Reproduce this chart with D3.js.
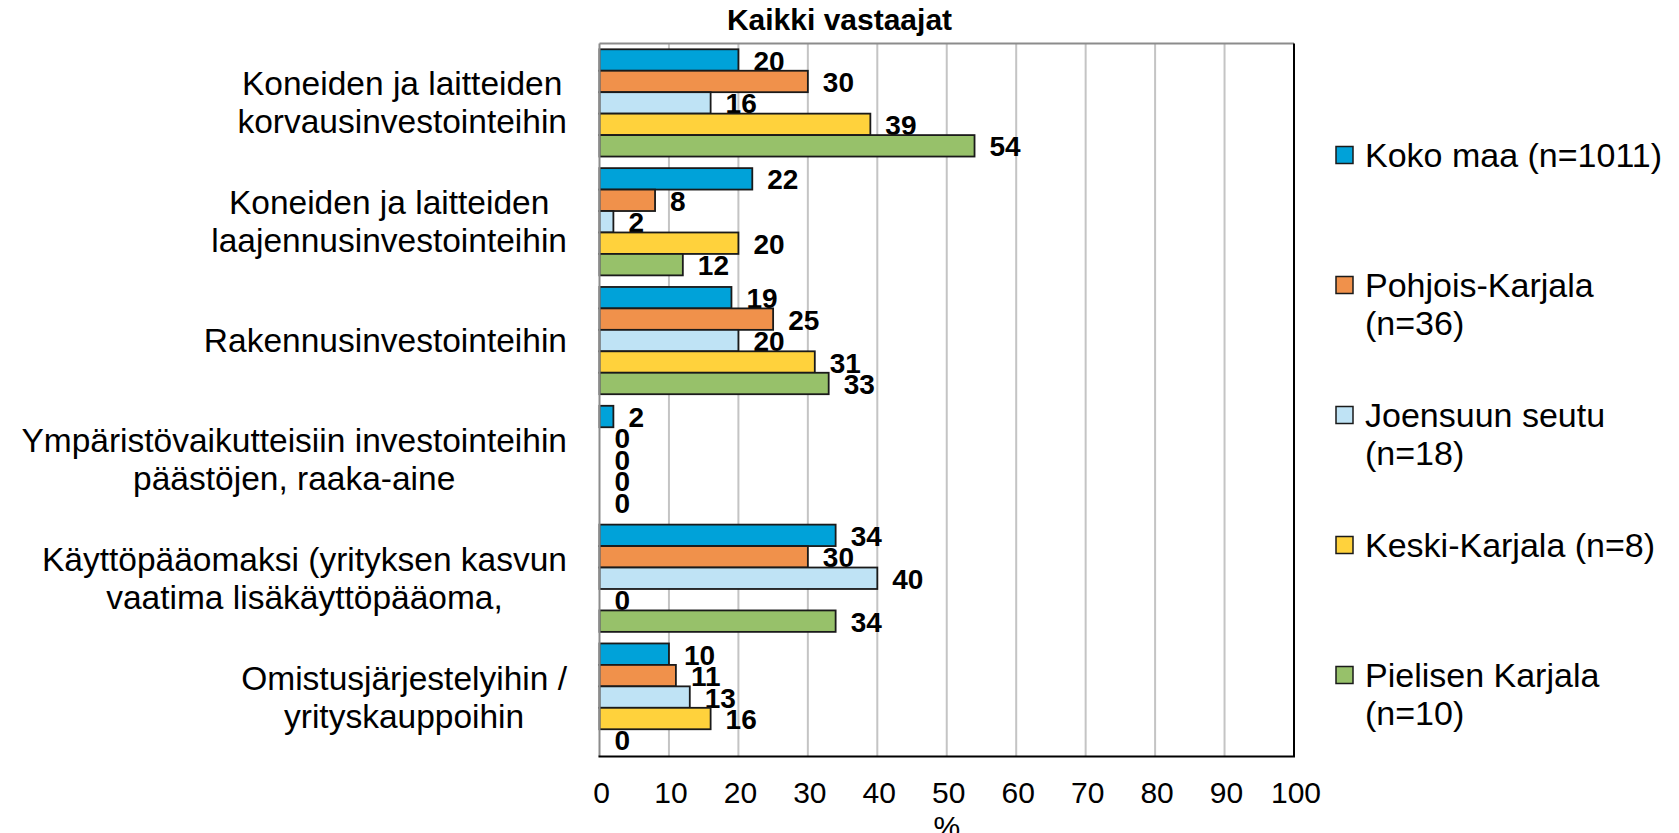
<!DOCTYPE html>
<html>
<head>
<meta charset="utf-8">
<script src="https://cdn.jsdelivr.net/npm/d3@7"></script>
<style>
  body { margin: 0; background: #fff; }
  text { font-family: "Liberation Sans", Arial, sans-serif; fill: #000; }
</style>
</head>
<body>
<div class="chart"></div>
<script>
// categories (each item is a list of lines)
var categories = [
  ["Koneiden ja laitteiden", "korvausinvestointeihin"],
  ["Koneiden ja laitteiden", "laajennusinvestointeihin"],
  ["Rakennusinvestointeihin"],
  ["Ympäristövaikutteisiin investointeihin", "päästöjen, raaka-aine"],
  ["Käyttöpääomaksi (yrityksen kasvun", "vaatima lisäkäyttöpääoma,"],
  ["Omistusjärjestelyihin /", "yrityskauppoihin"]
];

var seriesNames = ["Koko maa (n=1011)", "Pohjois-Karjala (n=36)", "Joensuun seutu (n=18)", "Keski-Karjala (n=8)", "Pielisen Karjala (n=10)"];
var legendLines = [["Koko maa (n=1011)"], ["Pohjois-Karjala", "(n=36)"], ["Joensuun seutu", "(n=18)"], ["Keski-Karjala (n=8)"], ["Pielisen Karjala", "(n=10)"]];
var colors = ["#00a2d9", "#f0914b", "#bfe3f5", "#ffd23c", "#97c16a"];

// values per series, in category order
var kokoMaa        = [20, 22, 19, 2, 34, 10];
var pohjoisKarjala = [30, 8, 25, 0, 30, 11];
var joensuunSeutu  = [16, 2, 20, 0, 40, 13];
var keskiKarjala   = [39, 20, 31, 0, 0, 16];
var pielisenKarjala= [54, 12, 33, 0, 34, 0];
var seriesValues = [kokoMaa, pohjoisKarjala, joensuunSeutu, keskiKarjala, pielisenKarjala];

var xTicks = [0, 10, 20, 30, 40, 50, 60, 70, 80, 90, 100];

var W = 1679, H = 833;
var plot = {left: 599.5, right: 1294, top: 43.5, bottom: 756.5};

var svg = d3.select("div.chart").append("svg")
    .attr("width", W).attr("height", H)
    .attr("viewBox", `0 0 ${W} ${H}`);

var x = d3.scaleLinear().domain([0, 100]).range([plot.left, plot.right]);
var y = d3.scaleBand().domain(d3.range(categories.length)).range([plot.top, plot.bottom]).padding(0);
var ySeries = d3.scaleBand().domain(d3.range(seriesNames.length)).range([0, y.bandwidth()])
    .paddingInner(0).paddingOuter(0.27);

// gridlines
svg.append("g").selectAll("line")
    .data(xTicks.slice(1, -1))
    .enter().append("line")
    .attr("x1", d => x(d)).attr("x2", d => x(d))
    .attr("y1", plot.top).attr("y2", plot.bottom)
    .attr("stroke", "#c4c4c4").attr("stroke-width", 2);

// plot border
svg.append("line").attr("x1", plot.left).attr("x2", plot.right).attr("y1", plot.top).attr("y2", plot.top)
    .attr("stroke", "#8c8c8c").attr("stroke-width", 2);
svg.append("line").attr("x1", plot.right).attr("x2", plot.right).attr("y1", plot.top).attr("y2", plot.bottom)
    .attr("stroke", "#000").attr("stroke-width", 2);

// bars
var groups = svg.append("g").selectAll("g")
    .data(seriesValues)
    .enter().append("g")
    .attr("fill", (d, i) => colors[i]);

groups.selectAll("rect")
    .data((d, i) => d.map((v, c) => ({v: v, c: c, s: i})))
    .enter().append("rect")
    .filter(d => d.v > 0)
    .attr("x", x(0))
    .attr("y", d => y(d.c) + ySeries(d.s))
    .attr("width", d => x(d.v) - x(0))
    .attr("height", ySeries.bandwidth())
    .attr("stroke", "#1a1a1a").attr("stroke-width", 1.8);

// data labels
groups.selectAll("text")
    .data((d, i) => d.map((v, c) => ({v: v, c: c, s: i})))
    .enter().append("text")
    .attr("x", d => x(d.v) + 15)
    .attr("y", d => y(d.c) + ySeries(d.s) + ySeries.bandwidth() / 2 + 10.5)
    .attr("font-size", 28).attr("font-weight", "bold")
    .style("fill", "#000")
    .text(d => d.v);

// left axis and bottom axis
svg.append("line").attr("x1", plot.left).attr("x2", plot.left).attr("y1", plot.top).attr("y2", plot.bottom)
    .attr("stroke", "#8c8c8c").attr("stroke-width", 2);
svg.append("line").attr("x1", plot.left - 1).attr("x2", plot.right + 1).attr("y1", plot.bottom).attr("y2", plot.bottom)
    .attr("stroke", "#000").attr("stroke-width", 2);

// x tick labels
svg.append("g").selectAll("text")
    .data(xTicks)
    .enter().append("text")
    .attr("x", d => x(d) + 2).attr("y", 803)
    .attr("text-anchor", "middle").attr("font-size", 30)
    .text(d => d);

svg.append("text").attr("x", (plot.left + plot.right) / 2).attr("y", 837)
    .attr("text-anchor", "middle").attr("font-size", 30).text("%");

// title
svg.append("text").attr("x", W / 2).attr("y", 30)
    .attr("text-anchor", "middle").attr("font-size", 30).attr("font-weight", "bold")
    .text("Kaikki vastaajat");

// category labels: lines centered, block right-aligned
var lineH = 38, labelRight = 567;
categories.forEach(function(lines, c) {
  var g = svg.append("g");
  var cy = y(c) + y.bandwidth() / 2;
  var texts = lines.map(function(t, i) {
    return g.append("text")
      .attr("y", cy + (i - (lines.length - 1) / 2) * lineH + 11.5)
      .attr("font-size", 33.5).attr("text-anchor", "middle")
      .text(t);
  });
  var maxW = d3.max(texts, t => t.node().getComputedTextLength());
  texts.forEach(t => t.attr("x", labelRight - maxW / 2));
});

// legend
var legendY = d3.scalePoint().domain(d3.range(seriesNames.length)).range([155, 675]);
legendLines.forEach(function(lines, i) {
  var ly = legendY(i);
  svg.append("rect").attr("x", 1336).attr("y", ly - 8.5).attr("width", 17).attr("height", 17)
      .attr("fill", colors[i]).attr("stroke", "#1a1a1a").attr("stroke-width", 1.5);
  lines.forEach(function(t, j) {
    svg.append("text").attr("x", 1365).attr("y", ly + 12 + j * lineH)
        .attr("font-size", 34).text(t);
  });
});
</script>
</body>
</html>
